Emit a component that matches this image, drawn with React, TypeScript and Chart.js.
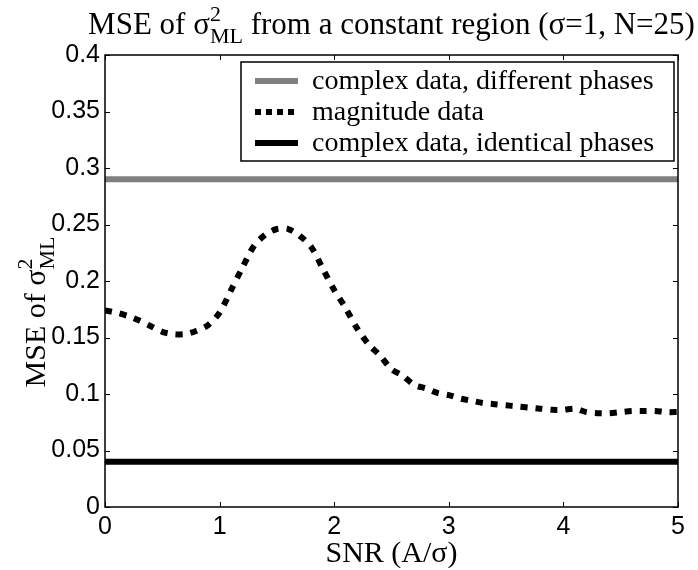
import { useEffect, useRef } from "react";
import { Chart, registerables } from "chart.js";

Chart.register(...registerables);

// ---- data ----
const snr = [
  0.0, 0.1, 0.2, 0.3, 0.4, 0.5, 0.6, 0.7, 0.8, 0.9,
  1.0, 1.1, 1.2, 1.3, 1.4, 1.5, 1.6, 1.7, 1.8, 1.9,
  2.0, 2.1, 2.2, 2.3, 2.4, 2.5, 2.6, 2.7, 2.8, 2.9,
  3.0, 3.1, 3.2, 3.3, 3.4, 3.5, 3.6, 3.7, 3.8, 3.9,
  4.0, 4.1, 4.2, 4.3, 4.4, 4.5, 4.6, 4.7, 4.8, 4.9, 5.0,
];
const magnitudeMse = [
  0.174, 0.172, 0.169, 0.165, 0.160, 0.155, 0.153, 0.153, 0.156, 0.161,
  0.172, 0.192, 0.212, 0.231, 0.241, 0.246, 0.246, 0.240, 0.230, 0.211,
  0.192, 0.176, 0.158, 0.144, 0.134, 0.122, 0.116, 0.108, 0.105, 0.101,
  0.099, 0.096, 0.094, 0.092, 0.091, 0.090, 0.089, 0.088, 0.087, 0.086,
  0.086, 0.087, 0.084, 0.083, 0.083, 0.084, 0.085, 0.085, 0.085, 0.084, 0.084,
];
const complexDifferentPhases = 0.29;
const complexIdenticalPhases = 0.04;
const xTicks = [0, 1, 2, 3, 4, 5];
const xTickLabels = ["0", "1", "2", "3", "4", "5"];
const yTicks = [0, 0.05, 0.1, 0.15, 0.2, 0.25, 0.3, 0.35, 0.4];
const yTickLabels = ["0", "0.05", "0.1", "0.15", "0.2", "0.25", "0.3", "0.35", "0.4"];
const legendLabels = [
  "complex data, different phases",
  "magnitude data",
  "complex data, identical phases",
];

const SERIF = '"Liberation Serif", "Times New Roman", serif';
const SANS = '"Liberation Sans", Arial, sans-serif';

function drawSigmaText(
  ctx: CanvasRenderingContext2D,
  prefix: string,
  suffix: string,
  cx: number,
  y: number,
  size: number
) {
  const small = Math.round(size * 0.72);
  ctx.font = `${size}px ${SERIF}`;
  const w1 = ctx.measureText(prefix).width;
  const w3 = ctx.measureText(suffix).width;
  ctx.font = `${small}px ${SERIF}`;
  const w2 = Math.max(ctx.measureText("2").width, ctx.measureText("ML").width);
  const total = w1 + w2 + w3;
  let x = cx - total / 2;
  ctx.textAlign = "left";
  ctx.textBaseline = "alphabetic";
  ctx.fillStyle = "#000";
  ctx.font = `${size}px ${SERIF}`;
  ctx.fillText(prefix, x, y);
  x += w1;
  ctx.font = `${small}px ${SERIF}`;
  ctx.fillText("2", x, y - size * 0.42);
  ctx.fillText("ML", x, y + size * 0.3);
  x += w2;
  ctx.font = `${size}px ${SERIF}`;
  ctx.fillText(suffix, x, y);
}

const decorPlugin = {
  id: "matlabDecor",
  afterDatasetsDraw(chart: any) {
    const { ctx, chartArea } = chart;
    const { left, right, top, bottom } = chartArea;
    const xs = chart.scales.x;
    const ys = chart.scales.y;
    ctx.save();
    // inside ticks on all four sides
    ctx.strokeStyle = "#000";
    ctx.lineWidth = 1;
    const tl = 5;
    ctx.beginPath();
    xTicks.forEach((v) => {
      const px = Math.round(xs.getPixelForValue(v)) + 0.5;
      ctx.moveTo(px, bottom);
      ctx.lineTo(px, bottom - tl);
      ctx.moveTo(px, top);
      ctx.lineTo(px, top + tl);
    });
    yTicks.forEach((v) => {
      const py = Math.round(ys.getPixelForValue(v)) + 0.5;
      ctx.moveTo(left, py);
      ctx.lineTo(left + tl, py);
      ctx.moveTo(right, py);
      ctx.lineTo(right - tl, py);
    });
    ctx.stroke();
    // box
    ctx.lineWidth = 1.5;
    ctx.strokeRect(left, top, right - left, bottom - top);
    ctx.restore();
  },
  afterDraw(chart: any) {
    const { ctx, chartArea } = chart;
    const { left, right } = chartArea;
    ctx.save();
    // title
    drawSigmaText(ctx, "MSE of σ", " from a constant region (σ=1, N=25)", (left + right) / 2, 34, 31);
    // y label (rotated)
    ctx.save();
    ctx.translate(45, 312);
    ctx.rotate(-Math.PI / 2);
    drawSigmaText(ctx, "MSE of σ", "", 0, 0, 30);
    ctx.restore();
    // x label
    ctx.font = `30px ${SERIF}`;
    ctx.fillStyle = "#000";
    ctx.textAlign = "center";
    ctx.textBaseline = "alphabetic";
    ctx.fillText("SNR (A/σ)", (left + right) / 2, 562);

    // legend
    const lx = 241, ly = 62, lw = 433, lh = 99;
    ctx.fillStyle = "#fff";
    ctx.fillRect(lx, ly, lw, lh);
    ctx.strokeStyle = "#000";
    ctx.lineWidth = 1.5;
    ctx.strokeRect(lx, ly, lw, lh);
    const ds = chart.data.datasets;
    const rows = [81, 112, 143];
    rows.forEach((ry, i) => {
      const d = ds[i];
      ctx.beginPath();
      ctx.strokeStyle = d.borderColor;
      ctx.lineWidth = d.borderWidth;
      ctx.lineCap = "butt";
      ctx.setLineDash(d.legendDash || []);
      ctx.moveTo(255, ry);
      ctx.lineTo(298, ry);
      ctx.stroke();
      ctx.setLineDash([]);
      ctx.fillStyle = "#000";
      ctx.font = `28px ${SERIF}`;
      ctx.textAlign = "left";
      ctx.textBaseline = "middle";
      ctx.fillText(legendLabels[i], 312, ry + 1);
    });
    ctx.restore();
  },
};

export default function App() {
  const ref = useRef<HTMLCanvasElement | null>(null);
  useEffect(() => {
    if (!ref.current) return;
    const xMin = snr[0];
    const xMax = snr[snr.length - 1];
    const chart = new Chart(ref.current, {
      type: "line",
      data: {
        datasets: [
          {
            label: legendLabels[0],
            data: [
              { x: xMin, y: complexDifferentPhases },
              { x: xMax, y: complexDifferentPhases },
            ],
            borderColor: "#808080",
            borderWidth: 6,
            pointRadius: 0,
            borderCapStyle: "butt",
          } as any,
          {
            label: legendLabels[1],
            data: snr.map((s, i) => ({ x: s, y: magnitudeMse[i] })),
            borderColor: "#000",
            borderWidth: 6,
            borderDash: [7, 8],
            legendDash: [6, 5],
            pointRadius: 0,
            tension: 0.3,
            borderCapStyle: "butt",
          } as any,
          {
            label: legendLabels[2],
            data: [
              { x: xMin, y: complexIdenticalPhases },
              { x: xMax, y: complexIdenticalPhases },
            ],
            borderColor: "#000",
            borderWidth: 6,
            pointRadius: 0,
            borderCapStyle: "butt",
          } as any,
        ],
      },
      options: {
        responsive: false,
        animation: false,
        devicePixelRatio: 1,
        layout: { padding: { top: 55, right: 20, bottom: 0, left: 0 } },
        plugins: {
          legend: { display: false },
          title: { display: false },
          tooltip: { enabled: false },
        },
        scales: {
          x: {
            type: "linear",
            min: 0,
            max: 5,
            grid: { display: false, drawTicks: false },
            border: { display: false },
            afterBuildTicks: (s: any) => {
              s.ticks = xTicks.map((v) => ({ value: v }));
            },
            afterFit: (s: any) => {
              s.height = 63;
            },
            ticks: {
              color: "#000",
              padding: 5,
              maxRotation: 0,
              autoSkip: false,
              font: { family: SANS, size: 25 },
              callback: (v: any) => xTickLabels[xTicks.indexOf(Number(v))] ?? "",
            },
          },
          y: {
            type: "linear",
            min: 0,
            max: 0.4,
            grid: { display: false, drawTicks: false },
            border: { display: false },
            afterBuildTicks: (s: any) => {
              s.ticks = yTicks.map((v) => ({ value: v }));
            },
            afterFit: (s: any) => {
              s.width = 105;
            },
            ticks: {
              color: "#000",
              padding: 5,
              autoSkip: false,
              font: { family: SANS, size: 25 },
              callback: (v: any, i: number) => yTickLabels[i] ?? "",
            },
          },
        },
      } as any,
      plugins: [decorPlugin],
    });
    return () => chart.destroy();
  }, []);
  return (
    <div style={{ position: "fixed", left: 0, top: 0, width: 698, height: 570, background: "#fff" }}>
      <canvas ref={ref} width={698} height={570} style={{ display: "block" }} />
    </div>
  );
}
